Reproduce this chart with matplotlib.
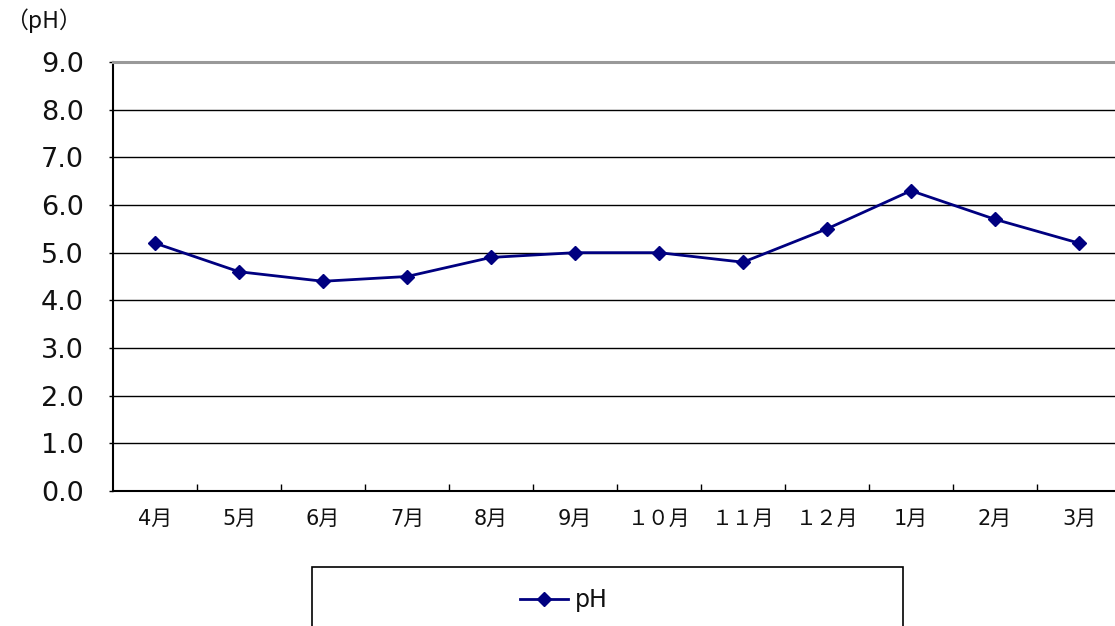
import matplotlib
matplotlib.use("Agg")
import matplotlib.pyplot as plt
from matplotlib.patches import Rectangle
from matplotlib.lines import Line2D

plt.rcParams['font.family'] = ['DejaVu Sans', 'Noto Sans CJK JP']

months = ["4月", "5月", "6月", "7月", "8月", "9月", "１０月", "１１月", "１２月", "1月", "2月", "3月"]
ph_values = [5.2, 4.6, 4.4, 4.5, 4.9, 5.0, 5.0, 4.8, 5.5, 6.3, 5.7, 5.2]
yticks = [0, 1, 2, 3, 4, 5, 6, 7, 8, 9]
series_name = "pH"
unit_label = "（pH）"

W, H = 1115, 626
fig = plt.figure(figsize=(W / 100, H / 100), dpi=100)
ax = fig.add_axes([113 / W, 1 - 491 / H, 1008 / W, 429 / H])

x = list(range(len(months)))
ax.plot(x, ph_values, color="#000080", linewidth=2, marker="D", markersize=7,
        markerfacecolor="#000080", markeredgecolor="#000080", zorder=3)

ax.set_xlim(-0.5, len(months) - 0.5)
ax.set_ylim(0, 9)
ax.set_yticks(yticks)
ax.set_yticklabels([f"{v:.1f}" for v in yticks], fontsize=19.5, color="#111111")
ax.set_xticks(x)
ax.set_xticklabels(months, fontsize=15, color="#111111")
ax.set_xticks([i + 0.5 for i in x[:-1]], minor=True)

for v in yticks[1:-1]:
    ax.axhline(v, color="black", linewidth=1, zorder=1)

ax.tick_params(axis="x", which="major", length=0, pad=13)
ax.tick_params(axis="x", which="minor", direction="in", length=5, width=1, color="black")
ax.tick_params(axis="y", direction="out", length=3, width=1, pad=18)

ax.spines["top"].set_color("#999999")
ax.spines["top"].set_linewidth(2.2)
ax.spines["left"].set_linewidth(1.5)
ax.spines["bottom"].set_linewidth(1.5)
ax.spines["right"].set_visible(False)

fig.text(5 / W, 1 - 21 / H, unit_label, fontsize=16.5, va="center", ha="left", color="#111111",
         family=['Noto Sans CJK JP', 'DejaVu Sans'])

# legend box
fig.patches.append(Rectangle((312 / W, -0.01), (903 - 312) / W, (626 - 567) / H + 0.01,
                             transform=fig.transFigure, fill=False, edgecolor="black",
                             linewidth=1.2, clip_on=False))
handle = Line2D([], [], color="#000080", linewidth=2, marker="D", markersize=7)
fig.legend([handle], [series_name], loc="center", bbox_to_anchor=(564 / W, 1 - 600 / H),
           frameon=False, fontsize=17, handlelength=2.0, handletextpad=0.3,
           labelcolor="#111111")

fig.savefig("out.png", dpi=100)
